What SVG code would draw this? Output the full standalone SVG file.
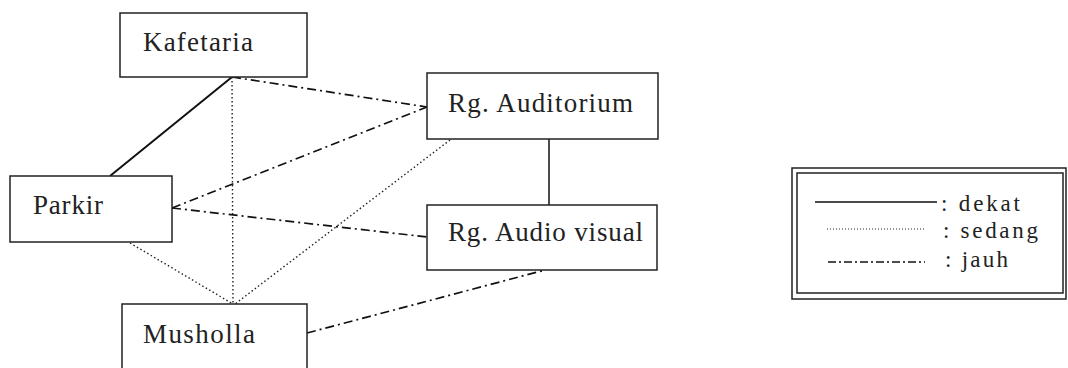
<svg xmlns="http://www.w3.org/2000/svg" width="1068" height="368" viewBox="0 0 1068 368">
<style>
.box{fill:#fff;stroke:#222;stroke-width:1.5}
.lbl{font-family:"Liberation Serif","Times New Roman",serif;font-size:27px;fill:#222}
.leg{font-family:"Liberation Serif","Times New Roman",serif;font-size:23px;fill:#222}
.solid{stroke:#111;stroke-width:2;fill:none}
.dot{stroke:#222;stroke-width:1.4;stroke-dasharray:1.5 2.5;fill:none}
.dd{stroke:#111;stroke-width:1.7;stroke-dasharray:9 4 2 4;fill:none}
</style>
<rect width="1068" height="368" fill="#fff"/>
<g id="connectors">
<line class="solid" x1="232" y1="77" x2="110" y2="176"/>
<line class="dot" x1="232" y1="77" x2="233" y2="304"/>
<line class="dd" x1="232" y1="77" x2="427" y2="107"/>
<line class="dd" x1="172" y1="208" x2="427" y2="107"/>
<line class="dd" x1="172" y1="208" x2="427" y2="237"/>
<line class="dot" x1="130" y1="243" x2="233" y2="304"/>
<line class="dot" x1="450" y1="140" x2="235" y2="304"/>
<line class="solid" style="stroke-width:1.5" x1="549" y1="139" x2="549" y2="205"/>
<line class="dd" x1="307" y1="333" x2="545" y2="270"/>
</g>
<g id="kafetaria">
<rect class="box" x="120" y="13" width="187" height="64"/>
<text class="lbl" x="143" y="51" textLength="110" lengthAdjust="spacing">Kafetaria</text>
</g>
<g id="parkir">
<rect class="box" x="10" y="176" width="162" height="66"/>
<text class="lbl" x="33" y="214" textLength="70" lengthAdjust="spacing">Parkir</text>
</g>
<g id="musholla">
<rect class="box" x="122" y="304" width="185" height="90"/>
<text class="lbl" x="143" y="343" textLength="112" lengthAdjust="spacing">Musholla</text>
</g>
<g id="auditorium">
<rect class="box" x="427" y="73" width="231" height="66"/>
<text class="lbl" x="448" y="112" textLength="185" lengthAdjust="spacing">Rg. Auditorium</text>
</g>
<g id="audiovisual">
<rect class="box" x="427" y="205" width="230" height="65"/>
<text class="lbl" x="448" y="241" textLength="195" lengthAdjust="spacing">Rg. Audio visual</text>
</g>
<g id="legend">
<rect x="792" y="168" width="274" height="131" fill="none" stroke="#222" stroke-width="1.5"/>
<rect x="797" y="173" width="266" height="120" fill="none" stroke="#222" stroke-width="1.5"/>
<line class="solid" style="stroke-width:1.5" x1="815" y1="202" x2="937" y2="202"/>
<line class="dot" style="stroke-dasharray:1 2;stroke-width:1" x1="827" y1="229" x2="925" y2="229"/>
<line class="dd" style="stroke-width:1.5;stroke-dasharray:8 3 2 3" x1="828" y1="262" x2="925" y2="262"/>
<text class="leg" x="941" y="211" textLength="79" lengthAdjust="spacing">: dekat</text>
<text class="leg" x="943" y="238" textLength="95" lengthAdjust="spacing">: sedang</text>
<text class="leg" x="945" y="267" textLength="63" lengthAdjust="spacing">: jauh</text>
</g>
</svg>
